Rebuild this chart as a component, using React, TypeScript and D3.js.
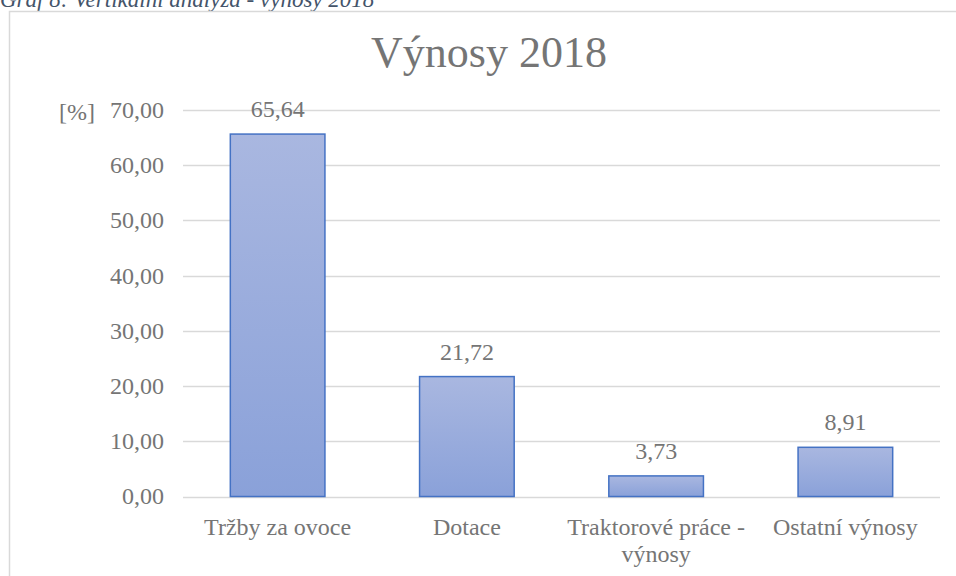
import React from "react";
import * as d3 from "d3";

const categories: string[][] = [
  ["Tržby za ovoce"],
  ["Dotace"],
  ["Traktorové práce -", "výnosy"],
  ["Ostatní výnosy"],
];
const values: number[] = [65.64, 21.72, 3.73, 8.91];
const yTicks: number[] = [0, 10, 20, 30, 40, 50, 60, 70];
const title = "Výnosy 2018";
const caption = "Graf 8: Vertikální analýza - výnosy 2018";
const unitLabel = "[%]";

const W = 956;
const H = 576;
const plot = { left: 183, right: 940, top: 110, bottom: 496.5 };
const font = "'Liberation Serif', 'Times New Roman', serif";
const fmt = (v: number) => v.toFixed(2).replace(".", ",");

export default function App() {
  const x = d3
    .scaleBand<number>()
    .domain(values.map((_, i) => i))
    .range([plot.left, plot.right])
    .paddingInner(0.5)
    .paddingOuter(0.25);
  const y = d3.scaleLinear().domain([0, 70]).range([plot.bottom, plot.top]);

  return (
    <svg
      width={W}
      height={H}
      style={{ position: "fixed", left: 0, top: 0, background: "#fff" }}
      fontFamily={font}
    >
      <defs>
        <linearGradient id="barGrad" x1="0" y1="0" x2="0" y2="1">
          <stop offset="0%" stopColor="#a9b7e0" />
          <stop offset="100%" stopColor="#8aa1d9" />
        </linearGradient>
      </defs>
      <rect x={0} y={0} width={W} height={H} fill="#fff" />
      <text x={0} y={7} fontSize={23} fontStyle="italic" fill="#44546a">
        {caption}
      </text>
      <rect
        x={9.5}
        y={11.5}
        width={W + 10}
        height={H + 10}
        fill="#fff"
        stroke="#d9d9d9"
        strokeWidth={1.5}
      />
      <text x={489} y={67} fontSize={44} fill="#757575" textAnchor="middle">
        {title}
      </text>
      {yTicks.map((t) => (
        <g key={t}>
          <line
            x1={plot.left}
            x2={plot.right}
            y1={Math.round(y(t)) + 0.5}
            y2={Math.round(y(t)) + 0.5}
            stroke="#d9d9d9"
            strokeWidth={1.5}
          />
          <text
            x={164}
            y={y(t)}
            dy="0.33em"
            fontSize={24}
            fill="#757575"
            textAnchor="end"
          >
            {fmt(t)}
          </text>
        </g>
      ))}
      <text x={77} y={y(70)} dy="0.42em" fontSize={24} fill="#757575" textAnchor="middle">
        {unitLabel}
      </text>
      {values.map((v, i) => {
        const bx = x(i)!;
        const bw = x.bandwidth();
        return (
          <g key={i}>
            <rect
              x={bx}
              y={y(v)}
              width={bw}
              height={y(0) - y(v)}
              fill="url(#barGrad)"
              stroke="#4472c4"
              strokeWidth={1.5}
            />
            <text
              x={bx + bw / 2}
              y={y(v) - 17}
              fontSize={24}
              fill="#757575"
              textAnchor="middle"
            >
              {fmt(v)}
            </text>
            <text
              x={bx + bw / 2}
              y={535}
              fontSize={24}
              fill="#757575"
              textAnchor="middle"
            >
              {categories[i].map((line, j) => (
                <tspan key={j} x={bx + bw / 2} dy={j === 0 ? 0 : 27}>
                  {line}
                </tspan>
              ))}
            </text>
          </g>
        );
      })}
    </svg>
  );
}
